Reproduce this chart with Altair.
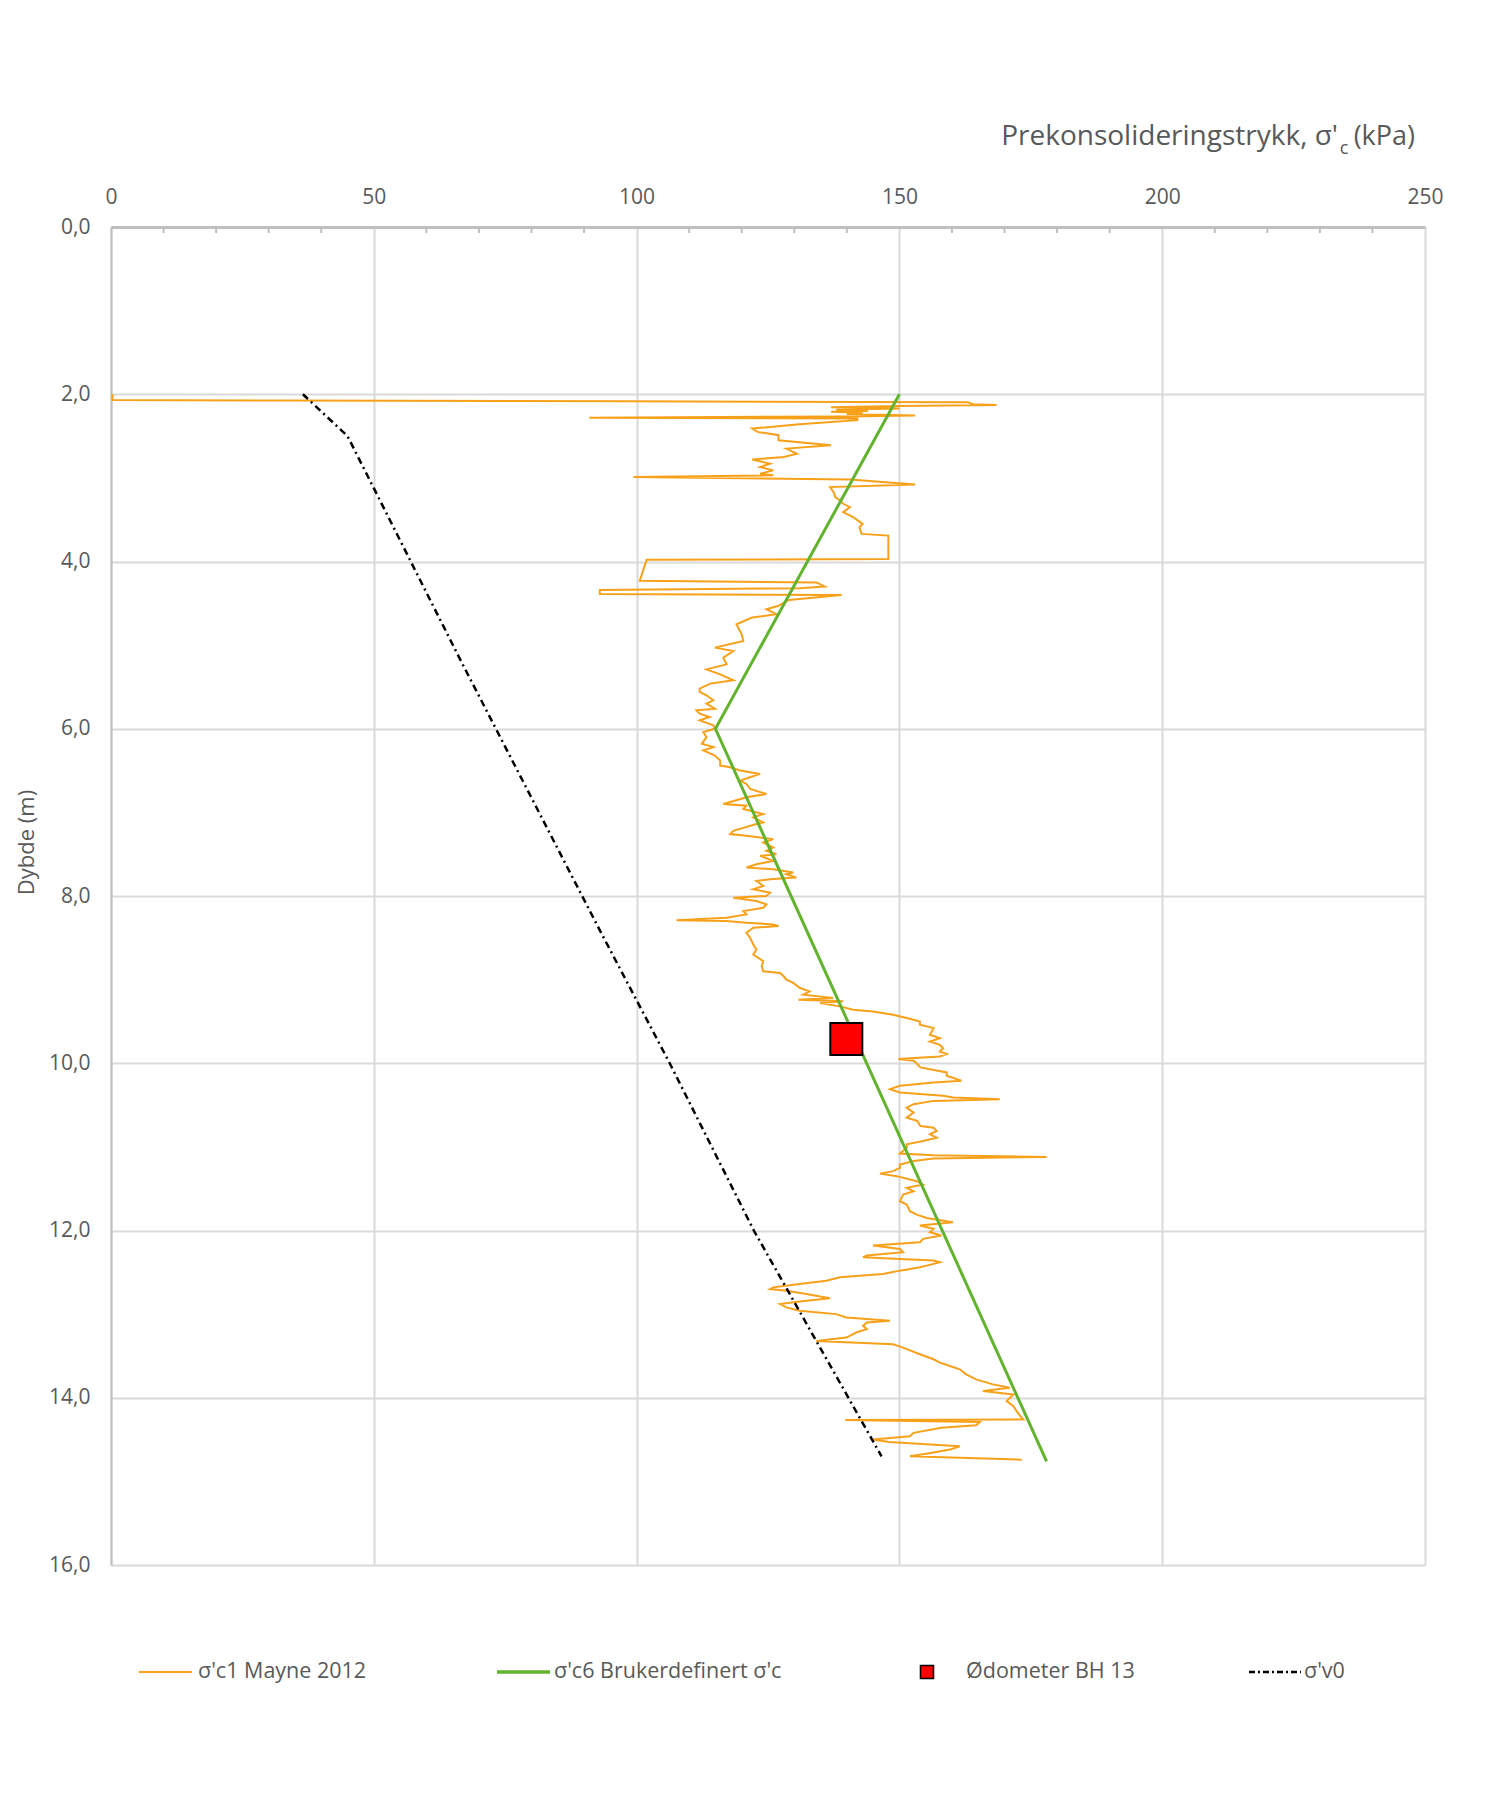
import altair as alt
import pandas as pd

# ---------------- data ----------------
mayne_depth = [
    2.00, 2.07, 2.075, 2.085, 2.095, 2.12, 2.13, 2.14, 2.155, 2.17, 2.185, 2.20, 2.21, 2.22, 2.235,
    2.255, 2.265, 2.28, 2.29, 2.31, 2.36, 2.41, 2.45, 2.49, 2.55, 2.61, 2.65, 2.71, 2.75, 2.78,
    2.83, 2.87, 2.91, 2.95, 2.97, 2.99, 3.02, 3.08, 3.11, 3.17, 3.23, 3.27, 3.31, 3.35, 3.41,
    3.47, 3.55, 3.59, 3.67, 3.69, 3.97, 3.98, 4.23, 4.25, 4.30, 4.32, 4.34, 4.39, 4.40, 4.46,
    4.53, 4.57, 4.63, 4.67, 4.75, 4.79, 4.87, 4.95, 5.03, 5.07, 5.15, 5.23, 5.29, 5.35, 5.42,
    5.46, 5.52, 5.56, 5.60, 5.66, 5.70, 5.76, 5.78, 5.82, 5.86, 5.90, 5.96, 6.00, 6.04, 6.10,
    6.18, 6.22, 6.26, 6.32, 6.38, 6.44, 6.46, 6.50, 6.54, 6.58, 6.62, 6.66, 6.72, 6.78, 6.82,
    6.90, 6.92, 6.96, 7.02, 7.06, 7.12, 7.14, 7.22, 7.26, 7.28, 7.32, 7.36, 7.42, 7.46, 7.50,
    7.52, 7.58, 7.62, 7.66, 7.68, 7.72, 7.74, 7.78, 7.80, 7.82, 7.88, 7.92, 7.96, 8.00, 8.02,
    8.06, 8.10, 8.14, 8.18, 8.22, 8.26, 8.29, 8.30, 8.32, 8.34, 8.36, 8.38, 8.44, 8.50, 8.58,
    8.64, 8.70, 8.78, 8.84, 8.90, 8.92, 8.96, 9.00, 9.04, 9.10, 9.14, 9.18, 9.22, 9.24, 9.26,
    9.28, 9.32, 9.36, 9.38, 9.42, 9.46, 9.50, 9.54, 9.58, 9.66, 9.70, 9.74, 9.78, 9.82, 9.86,
    9.89, 9.92, 9.95, 9.97, 10.01, 10.05, 10.11, 10.15, 10.21, 10.23, 10.27, 10.31, 10.35, 10.39, 10.41,
    10.43, 10.45, 10.49, 10.53, 10.59, 10.65, 10.69, 10.75, 10.77, 10.81, 10.85, 10.89, 10.93, 10.97, 11.01,
    11.08, 11.10, 11.12, 11.14, 11.17, 11.21, 11.25, 11.29, 11.32, 11.35, 11.41, 11.45, 11.49, 11.53, 11.57,
    11.65, 11.69, 11.77, 11.81, 11.85, 11.89, 11.90, 11.94, 11.98, 12.02, 12.06, 12.10, 12.14, 12.18, 12.22,
    12.26, 12.30, 12.32, 12.34, 12.36, 12.38, 12.42, 12.44, 12.48, 12.52, 12.56, 12.60, 12.64, 12.68, 12.70,
    12.72, 12.76, 12.81, 12.85, 12.88, 12.92, 12.96, 13.00, 13.04, 13.08, 13.10, 13.14, 13.18, 13.22, 13.24,
    13.28, 13.32, 13.36, 13.40, 13.48, 13.54, 13.58, 13.62, 13.66, 13.72, 13.78, 13.84, 13.88, 13.92, 13.96,
    14.04, 14.10, 14.16, 14.22, 14.26, 14.265, 14.29, 14.33, 14.36, 14.42, 14.46, 14.50, 14.53, 14.58, 14.62,
    14.66, 14.70, 14.74,
]
mayne_sigma = [
    0.3, 0.3, 32, 98, 163, 164, 168.5, 150, 137, 150, 138, 144, 137, 143, 140,
    153, 140, 91, 142, 142, 131, 122, 123, 127, 127, 137, 128.5, 130.5, 128, 122,
    125.4, 123.5, 126, 123.5, 126, 99.4, 140.6, 153, 136.8, 137.5, 137.8, 138.7, 139.3, 140.6, 139.3,
    141.2, 143, 142.4, 142.8, 147.9, 147.9, 101.9, 100.6, 134.2, 135.8, 131, 93, 93, 139, 129,
    127, 124.7, 126.6, 122, 119, 119.3, 120, 120.3, 114.9, 118.4, 116.5, 117.1, 113.3, 115.9, 118.4,
    114, 112, 112, 113.3, 114.6, 113.3, 114.9, 111.4, 112, 113.9, 112, 114.6, 114.9, 112.7, 113.3,
    112.4, 114.6, 112.7, 114.9, 115.9, 115.9, 117.8, 119.7, 123.5, 121.6, 119.7, 120.9, 121.6, 124.7, 120.9,
    116.5, 120.9, 120.3, 124.1, 122.2, 124.1, 122.8, 118.4, 117.8, 120.9, 126, 124.1, 126, 124.7, 126.6,
    123.5, 126, 122.8, 120.9, 126, 129.8, 128.5, 130.4, 125.4, 122.8, 124.1, 122.2, 125.4, 124.7, 118.4,
    122.8, 124.7, 124.1, 120.3, 120.9, 117.1, 107.6, 117.1, 120.9, 126, 127, 122.2, 120.9, 121.6, 122.2,
    122.8, 122.2, 124.1, 123.8, 124.1, 127.3, 128, 128.5, 129.8, 131.1, 132.9, 131.7, 137.4, 130.8, 139.3,
    134.9, 138.7, 141.2, 145, 148.8, 151.4, 153.9, 153.9, 156.5, 155.8, 157.7, 155.8, 157.7, 158.3, 157.7,
    159, 157.7, 149.8, 152.7, 153.4, 154, 159, 159, 161.8, 156.5, 150.1, 148.2, 150.1, 158.3, 160.2,
    169.1, 156.5, 152.7, 151.4, 152.7, 151.4, 153.4, 154, 156.5, 157.1, 155.8, 157.1, 154.5, 151.4, 151.4,
    150.1, 156.5, 178, 156.5, 152.7, 150.1, 150.1, 148.8, 146.3, 149.5, 153.3, 154.5, 151.4, 152.7, 150.7,
    150.1, 151.4, 152, 153.3, 155.2, 159, 160.2, 153.9, 156.5, 155.8, 158, 154.5, 153.9, 145, 150.1,
    150.7, 143.8, 143.1, 150.1, 156.5, 157.7, 155.2, 153.9, 150.1, 146.9, 138.7, 136.1, 131, 126, 125.4,
    128.5, 132.3, 136.8, 131, 127.3, 128.5, 131, 138, 139.9, 148.2, 143.8, 143.1, 143.8, 141.8, 141.2,
    139.9, 134.2, 148.8, 150.7, 153.9, 156.5, 157.7, 159.6, 161.5, 162.7, 164.6, 167.8, 171, 165.9, 171.7,
    170.4, 171.7, 172.3, 173, 173.6, 139.7, 165.3, 164.6, 158, 152.7, 152, 145, 148, 161.5, 159.6,
    156, 152, 173.3,
]

bruker_depth = [2.0, 6.0, 14.76]
bruker_sigma = [150.0, 115.0, 178.0]

v0_depth = [2.0, 2.5, 5.18, 8.41, 10.0, 12.0, 14.70]
v0_sigma = [36.5, 45.0, 66.5, 93.0, 106.3, 122.3, 146.6]

odo_depth = [9.71]
odo_sigma = [139.9]

x_ticks = [0, 50, 100, 150, 200, 250]
y_ticks = [0, 2, 4, 6, 8, 10, 12, 14, 16]
minor_ticks = [v for v in range(10, 250, 10) if v % 50 != 0]

legend_labels = ["σ'c1 Mayne 2012", "σ'c6 Brukerdefinert σ'c", "Ødometer BH 13", "σ'v0"]

# ---------------- styling ----------------
W, H = 1314, 1338
FONT = "Open Sans"
TXT = "#595959"
ORANGE = "#F7A11A"
GREEN = "#62B32E"
GRID = "#D9D9D9"
AXIS = "#BFBFBF"
DASH = [7, 4, 2, 4]

x_scale = alt.Scale(domain=[0, 250], nice=False, zero=False)
y_scale = alt.Scale(domain=[0, 16], reverse=True, nice=False, zero=False)

mayne_df = pd.DataFrame({"i": list(range(len(mayne_depth))), "depth": mayne_depth, "sigma": mayne_sigma})
bruker_df = pd.DataFrame({"i": list(range(len(bruker_depth))), "depth": bruker_depth, "sigma": bruker_sigma})
v0_df = pd.DataFrame({"i": list(range(len(v0_depth))), "depth": v0_depth, "sigma": v0_sigma})
odo_df = pd.DataFrame({"depth": odo_depth, "sigma": odo_sigma})
minor_df = pd.DataFrame({"sigma": minor_ticks})
one = pd.DataFrame({"a": [0]})

x_axis = alt.Axis(
    orient="top", values=x_ticks, title=None, ticks=False, format="d",
    labelFont=FONT, labelFontSize=21, labelColor=TXT, labelPadding=20, labelFlush=False,
    domainColor=AXIS, domainWidth=3, grid=True, gridColor=GRID, gridWidth=2,
)
y_axis = alt.Axis(
    orient="left", values=y_ticks, ticks=False,
    labelExpr="replace(format(datum.value, '.1f'), '.', ',')",
    labelFont=FONT, labelFontSize=21, labelColor=TXT, labelPadding=21, labelFlush=False,
    domainColor=AXIS, domainWidth=2, grid=True, gridColor=GRID, gridWidth=2,
    title="Dybde (m)", titleFont=FONT, titleFontSize=22, titleFontWeight="normal",
    titleColor=TXT, titlePadding=10, titleY=615,
)

x_enc = alt.X("sigma:Q", scale=x_scale, axis=x_axis)
y_enc = alt.Y("depth:Q", scale=y_scale, axis=y_axis)

mayne = alt.Chart(mayne_df).mark_line(color=ORANGE, strokeWidth=2).encode(
    x=x_enc, y=y_enc, order="i:Q")
bruker = alt.Chart(bruker_df).mark_line(color=GREEN, strokeWidth=3).encode(
    x=x_enc, y=y_enc, order="i:Q")
v0 = alt.Chart(v0_df).mark_line(color="black", strokeWidth=2.5, strokeDash=DASH).encode(
    x=x_enc, y=y_enc, order="i:Q")
odo = alt.Chart(odo_df).mark_point(
    shape="square", filled=True, fill="#FF0000", stroke="black", strokeWidth=2, size=1024, opacity=1
).encode(x=x_enc, y=y_enc)
minor = alt.Chart(minor_df).mark_rule(color=AXIS, strokeWidth=2).encode(
    x=x_enc, y=alt.value(0), y2=alt.value(6))

# ---- top axis title with subscript ----
TY = -90
t_main = alt.Chart(one).mark_text(font=FONT, fontSize=28, color=TXT, align="right", baseline="middle").encode(
    x=alt.value(1227), y=alt.value(TY), text=alt.value("Prekonsolideringstrykk, σ'"))
t_sub = alt.Chart(one).mark_text(font=FONT, fontSize=18, color=TXT, align="center", baseline="middle").encode(
    x=alt.value(1233), y=alt.value(TY + 12), text=alt.value("c"))
t_unit = alt.Chart(one).mark_text(font=FONT, fontSize=27, color=TXT, align="right", baseline="middle").encode(
    x=alt.value(1304), y=alt.value(TY), text=alt.value("(kPa)"))

# ---- legend ----
LY = 1445
def leg_text(x, label):
    return alt.Chart(one).mark_text(font=FONT, fontSize=21.5, color=TXT, align="left", baseline="middle").encode(
        x=alt.value(x), y=alt.value(LY), text=alt.value(label))

lg1 = alt.Chart(one).mark_rule(color=ORANGE, strokeWidth=2).encode(
    x=alt.value(28), x2=alt.value(81), y=alt.value(LY))
lg2 = alt.Chart(one).mark_rule(color=GREEN, strokeWidth=3.5).encode(
    x=alt.value(386), x2=alt.value(439), y=alt.value(LY))
lg3 = alt.Chart(one).mark_point(shape="square", filled=True, fill="#FF0000", stroke="black",
                                strokeWidth=1.5, size=170, opacity=1).encode(
    x=alt.value(816), y=alt.value(LY))
lg4 = alt.Chart(one).mark_rule(color="black", strokeWidth=2.5, strokeDash=[6, 3, 2, 3]).encode(
    x=alt.value(1138), x2=alt.value(1190), y=alt.value(LY))

chart = alt.layer(
    mayne, bruker, v0, odo, minor,
    t_main, t_sub, t_unit,
    lg1, leg_text(87, legend_labels[0]),
    lg2, leg_text(443, legend_labels[1]),
    lg3, leg_text(855, legend_labels[2]),
    lg4, leg_text(1193, legend_labels[3]),
).properties(
    width=W, height=H,
    autosize=alt.AutoSizeParams(type="none"),
    padding={"left": 103, "top": 219, "right": 40, "bottom": 200},
).configure_view(stroke=None).configure(background="white")

chart.save("out.html", embed_options={"renderer": "svg", "actions": False})
